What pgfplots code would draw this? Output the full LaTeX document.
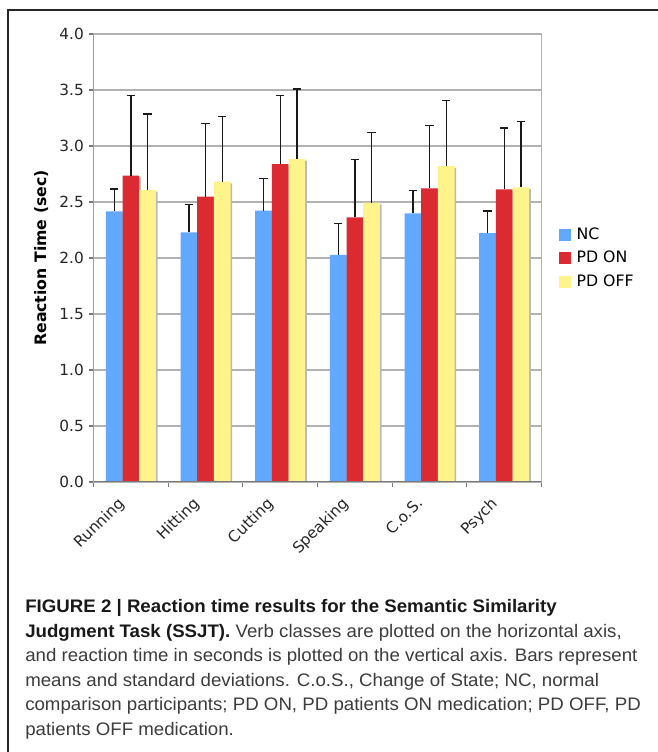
\documentclass[border=0pt]{standalone}
\usepackage{pgfplots}
\pgfplotsset{compat=1.18}
\usepackage{pgfplotstable}
\usepackage{fontspec}
\setmainfont{DejaVu Sans}
\newfontfamily\capfont[FakeStretch=1.03]{Liberation Sans}
\usetikzlibrary{shadows}
\definecolor{ncblue}{RGB}{99,168,255}
\definecolor{onred}{RGB}{220,42,50}
\definecolor{offyel}{RGB}{255,244,140}
\definecolor{gridc}{RGB}{178,178,178}
\definecolor{axc}{RGB}{120,120,120}
\definecolor{capgray}{RGB}{60,60,60}

\pgfplotstableread{
x nc ncerr on onerr off offerr
0 2.417 0.199 2.735 0.717 2.607 0.679
1 2.229 0.250 2.548 0.651 2.682 0.583
2 2.423 0.288 2.839 0.610 2.884 0.625
3 2.027 0.283 2.363 0.515 2.494 0.625
4 2.399 0.202 2.622 0.560 2.821 0.587
5 2.223 0.197 2.613 0.548 2.631 0.589
}\data

\begin{document}
\begin{tikzpicture}
\useasboundingbox (0,0) rectangle (492.75pt,564pt);
\draw[line width=1.5pt, black!85] (6pt,-20pt) -- (6pt,556.5pt) -- (520pt,556.5pt);
\begin{axis}[
  at={(70.125pt,202.5pt)}, anchor=south west,
  scale only axis, width=336pt, height=336pt,
  ybar, bar width=12.5pt,
  xmin=-0.5, xmax=5.5, ymin=0, ymax=4,
  tick pos=left,
  xtick={-0.5,0.5,...,5.5}, xticklabels={},
  extra x ticks={0,1,2,3,4,5},
  extra x tick labels={Running,Hitting,Cutting,Speaking,C.o.S.,Psych},
  extra x tick style={major tick length=0pt, grid=none,
     tick label style={rotate=45, anchor=north east, inner sep=1pt, xshift=-13.7pt, yshift=1pt}},
  ytick={0,0.5,...,4},
  yticklabel style={/pgf/number format/.cd, fixed, fixed zerofill, precision=1, assume math mode=true},
  tick label style={font=\fontsize{11.5}{13}\selectfont, color=black!85},
  ymajorgrids, xmajorgrids=false,
  grid style={draw=gridc, line width=0.9pt},
  axis line style={draw=gridc, line width=0.9pt},
  tick align=outside, major tick length=3.75pt,
  tick style={draw=axc, line width=0.9pt},
  every axis y label/.style={at={(axis description cs:-0.117,0.5)}, anchor=center, rotate=90,
     font=\bfseries\fontsize{11.8}{13}\selectfont},
  ylabel={Reaction Time (sec)},
  legend style={at={(1,0.5)}, anchor=west, xshift=13pt, draw=none, fill=none,
     font=\fontsize{11.8}{13}\selectfont, row sep=3.5pt, inner sep=0pt,
     /tikz/every odd column/.append style={column sep=2.5pt}},
  legend cell align=left,
]
\addplot[forget plot, bar shift=-12.5pt, fill=ncblue, draw=none,
  drop shadow={shadow xshift=1.3pt, shadow yshift=-1.3pt, fill=black!28, opacity=1}]
  table[x=x, y=nc] {\data};
\addplot[forget plot, bar shift=0pt, fill=onred, draw=none,
  drop shadow={shadow xshift=1.3pt, shadow yshift=-1.3pt, fill=black!28, opacity=1}]
  table[x=x, y=on] {\data};
\addplot[forget plot, bar shift=12.5pt, fill=offyel, draw=none,
  drop shadow={shadow xshift=1.3pt, shadow yshift=-1.3pt, fill=black!28, opacity=1}]
  table[x=x, y=off] {\data};

\addplot[forget plot, bar shift=-12.5pt, draw=none, fill=none,
  error bars/.cd, y dir=plus, y explicit,
  error bar style={draw=black!90, line width=1pt},
  error mark options={draw=black!90, line width=1pt, mark size=3.1pt, rotate=90}]
  table[x=x, y=nc, y error=ncerr] {\data};
\addplot[forget plot, bar shift=0pt, draw=none, fill=none,
  error bars/.cd, y dir=plus, y explicit,
  error bar style={draw=black!90, line width=1pt},
  error mark options={draw=black!90, line width=1pt, mark size=3.1pt, rotate=90}]
  table[x=x, y=on, y error=onerr] {\data};
\addplot[forget plot, bar shift=12.5pt, draw=none, fill=none,
  error bars/.cd, y dir=plus, y explicit,
  error bar style={draw=black!90, line width=1pt},
  error mark options={draw=black!90, line width=1pt, mark size=3.1pt, rotate=90}]
  table[x=x, y=off, y error=offerr] {\data};

\draw[axc, line width=0.9pt] (rel axis cs:0,1) -- (rel axis cs:0,0) -- (rel axis cs:1,0);

\addlegendimage{legend image code/.code={\fill[ncblue] (0pt,-4.1pt) rectangle (8.2pt,4.1pt);}}
\addlegendentry{NC}
\addlegendimage{legend image code/.code={\fill[onred] (0pt,-4.1pt) rectangle (8.2pt,4.1pt);}}
\addlegendentry{PD ON}
\addlegendimage{legend image code/.code={\fill[offyel] (0pt,-4.1pt) rectangle (8.2pt,4.1pt);}}
\addlegendentry{PD OFF}
\end{axis}

\begin{scope}[every node/.style={anchor=base west, inner sep=0pt, font=\capfont\fontsize{13.6}{18}\selectfont, text=capgray}]
\node at (18.75pt,104.6pt) {\textcolor{black!90}{\bfseries FIGURE 2 | Reaction time results for the Semantic Similarity}};
\node at (18.75pt,86.2pt) {\textcolor{black!90}{\bfseries Judgment Task (SSJT).} Verb classes are plotted on the horizontal axis,};
\node at (18.75pt,67.8pt) {and reaction time in seconds is plotted on the vertical axis. Bars represent};
\node at (18.75pt,49.35pt) {means and standard deviations. C.o.S., Change of State; NC, normal};
\node at (18.75pt,30.9pt) {comparison participants; PD ON, PD patients ON medication; PD OFF, PD};
\node at (18.75pt,12.45pt) {patients OFF medication.};
\end{scope}
\end{tikzpicture}
\end{document}
